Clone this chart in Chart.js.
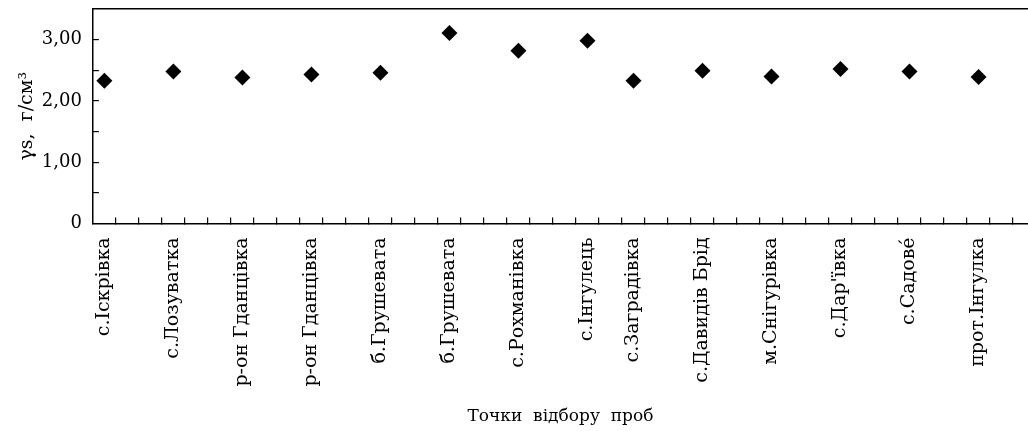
<!DOCTYPE html>
<html>
<head>
<meta charset="utf-8">
<script src="https://cdn.jsdelivr.net/npm/chart.js@4/dist/chart.umd.min.js"></script>
<style>
  html, body { margin: 0; padding: 0; background: #fff; }
  #wrap { width: 1028px; height: 431px; position: relative; }
</style>
</head>
<body>
<div id="wrap"><canvas id="chart"></canvas></div>
<script>
// sampling points (x axis)
const sites = ["с.Іскрівка", "с.Лозуватка", "р-он Гданцівка", "р-он Гданцівка", "б.Грушевата",
  "б.Грушевата", "с.Рохманівка", "с.Інгулець", "с.Заградівка", "с.Давидів Брід",
  "м.Снігурівка", "с.Дар'ївка", "с.Садове́", "прот.Інгулка"];
// slot index of every site on the tick grid (one slot = one tick interval)
const slots = [0, 3, 6, 9, 12, 15, 18, 21, 23, 26, 29, 32, 35, 38];
// density values, g/cm3
const density = [2.33, 2.48, 2.38, 2.43, 2.46, 3.11, 2.82, 2.98, 2.33, 2.49, 2.40, 2.52, 2.48, 2.39];
const yTicks = [0, 0.5, 1, 1.5, 2, 2.5, 3, 3.5];

const FONT = "'DejaVu Serif', serif";
const points = density.map((v, i) => ({x: slots[i] + 0.5, y: v}));
const labelAt = {};
slots.forEach((s, i) => { labelAt[s + 0.5] = sites[i]; });

// drop the extra room chart.js reserves for half-labels at the ends
const noEndPad = (sc) => { sc.paddingLeft = 0; sc.paddingRight = 0; sc.paddingTop = 0; sc.paddingBottom = 0; };

new Chart(document.getElementById("chart"), {
  type: "scatter",
  data: {
    datasets: [{
      data: points,
      pointStyle: "rectRot",
      pointRadius: 8,
      pointHoverRadius: 8,
      backgroundColor: "#000",
      borderColor: "#000",
      borderWidth: 0
    }]
  },
  options: {
    responsive: true,
    maintainAspectRatio: false,
    animation: false,
    layout: { autoPadding: false, padding: { top: 1, right: 0, bottom: 0, left: 0 } },
    plugins: { legend: { display: false }, tooltip: { enabled: false } },
    scales: {
      x: {
        type: "linear",
        min: 0, max: 40.65,
        afterBuildTicks: (sc) => {
          const t = [];
          for (let k = 0; k <= 40; k++) t.push({value: k});
          slots.forEach(s => t.push({value: s + 0.5}));
          t.sort((a, b) => a.value - b.value);
          sc.ticks = t;
        },
        afterFit: noEndPad,
        grid: {
          drawOnChartArea: false, drawTicks: true, tickLength: -6, lineWidth: 1.2,
          tickColor: (c) => (c.tick && Number.isInteger(c.tick.value) && c.tick.value > 0) ? "#000" : "rgba(0,0,0,0)"
        },
        border: { color: "#000", width: 1.5 },
        ticks: {
          autoSkip: false, maxRotation: 90, minRotation: 90, padding: 20,
          color: "#000", font: { family: FONT, size: 19 },
          callback: (v) => labelAt[v] || ""
        },
        title: {
          display: true, text: "Точки  відбору  проб", color: "#000",
          font: { family: FONT, size: 17 }, padding: { top: 0, bottom: 4 }
        }
      },
      x2: {
        type: "linear", position: "top", min: 0, max: 40.65,
        afterFit: noEndPad,
        grid: { display: false },
        border: { color: "#000", width: 1.5 },
        ticks: { display: false }
      },
      y: {
        min: 0, max: 3.5,
        afterBuildTicks: (sc) => { sc.ticks = yTicks.map(v => ({value: v})); },
        afterFit: noEndPad,
        grid: {
          drawOnChartArea: false, drawTicks: true, tickLength: -6, lineWidth: 1.2,
          tickColor: (c) => (c.tick && c.tick.value > 0 && c.tick.value < 3.5) ? "#000" : "rgba(0,0,0,0)"
        },
        border: { color: "#000", width: 1.5 },
        ticks: {
          padding: 17, color: "#000", font: { family: FONT, size: 18 },
          callback: (v) => v === 0 ? "0" : (Number.isInteger(v) ? v.toFixed(2).replace(".", ",") : "")
        },
        title: {
          display: true, text: "γs,  г/см³", color: "#000",
          font: { family: FONT, size: 19 }, padding: { top: 16, bottom: -14 }
        }
      }
    }
  }
});
</script>
</body>
</html>
